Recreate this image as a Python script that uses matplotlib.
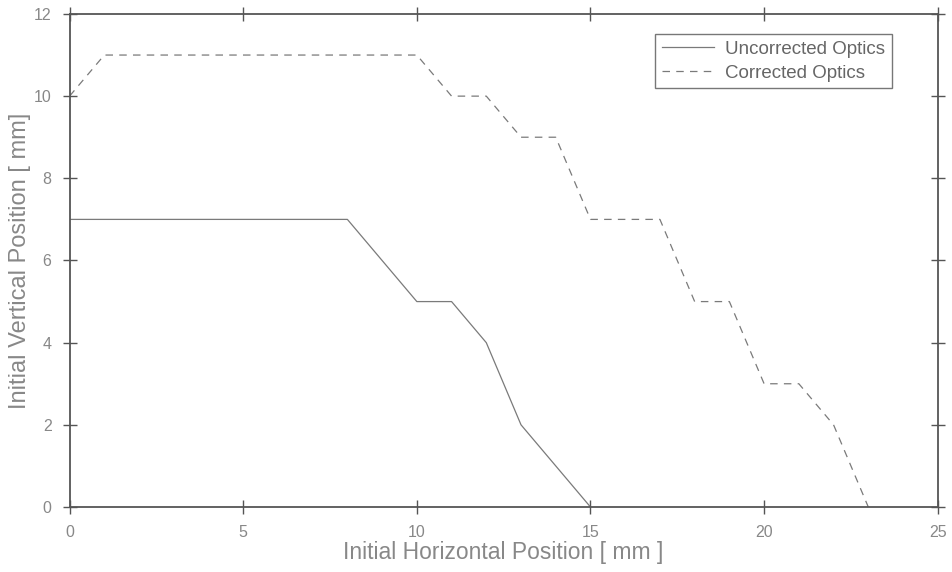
import matplotlib
matplotlib.use("Agg")
import matplotlib.pyplot as plt

# data
x_uncorr = [0, 8, 10, 11, 12, 13, 15]
y_uncorr = [7, 7, 5, 5, 4, 2, 0]

x_corr = [0, 1, 10, 11, 12, 13, 14, 15, 17, 18, 19, 20, 21, 22, 23]
y_corr = [10, 11, 11, 10, 10, 9, 9, 7, 7, 5, 5, 3, 3, 2, 0]

x_ticks = [0, 5, 10, 15, 20, 25]
y_ticks = [0, 2, 4, 6, 8, 10, 12]

plt.rcParams['font.family'] = ['Liberation Sans', 'DejaVu Sans']

fig = plt.figure(figsize=(9.53, 5.72), dpi=100)
ax = fig.add_axes([0.073, 0.1136, 0.911, 0.862])

ax.plot(x_uncorr, y_uncorr, color='#7a7a7a', linewidth=0.9, label='Uncorrected Optics')
ax.plot(x_corr, y_corr, color='#7a7a7a', linewidth=0.9, linestyle=(0, (6, 5)), label='Corrected Optics')

ax.set_xlim(0, 25)
ax.set_ylim(0, 12)
ax.set_xticks(x_ticks)
ax.set_yticks(y_ticks)

ax.tick_params(direction='inout', length=10, width=1, color='#555555',
               top=True, right=True, labelsize=11.5, labelcolor='#888888', pad=8)
for s in ax.spines.values():
    s.set_color('#555555')
    s.set_linewidth(1.3)

ax.set_xlabel('Initial Horizontal Position [ mm ]', fontsize=16.5, color='#888888', labelpad=1)
ax.set_ylabel('Initial Vertical Position [ mm]', fontsize=17, color='#888888', labelpad=2)

leg = ax.legend(loc='upper right', bbox_to_anchor=(0.958, 0.978), fontsize=13.5, frameon=True,
                fancybox=False, edgecolor='#555555', handlelength=2.8, borderpad=0.35,
                labelspacing=0.35, handletextpad=0.6)
leg.get_frame().set_linewidth(1.0)
for t in leg.get_texts():
    t.set_color('#666666')

fig.savefig('out.png', dpi=100)
